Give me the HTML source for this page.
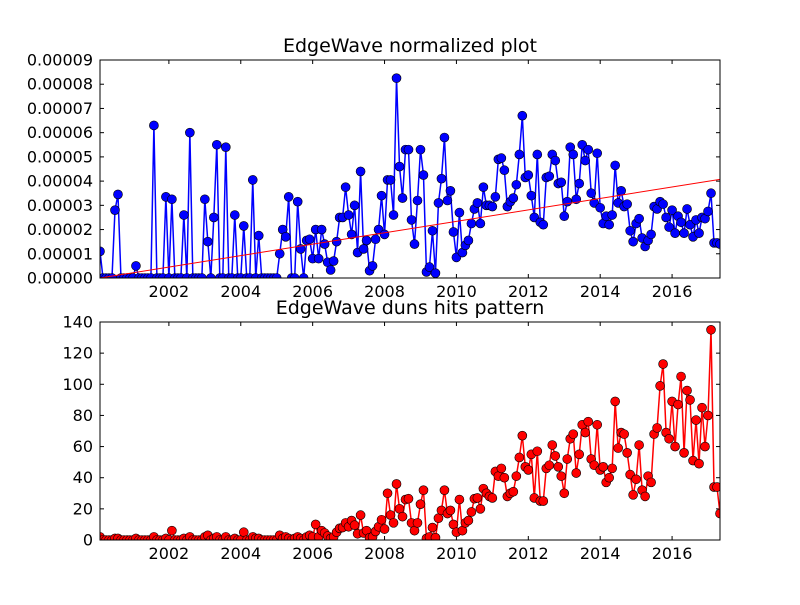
<!DOCTYPE html>
<html><head><meta charset="utf-8"><style>
body{margin:0;background:#fff}
svg text{font-family:"DejaVu Sans","Liberation Sans",sans-serif}
</style></head><body>
<svg id="chart" width="800" height="600" viewBox="0 0 800 600" xmlns="http://www.w3.org/2000/svg">
<rect width="800" height="600" fill="#fff"/>
<g id="top"></g>
<g id="bot"></g>
</svg>
<script>
const startYear = 2000;
const startMonth = 1;
const xTicks = [2002,2004,2006,2008,2010,2012,2014,2016];
const topTicks = [0,1,2,3,4,5,6,7,8,9];
const botTicks = [0,20,40,60,80,100,120,140];
// normalized values (x 1e-5)
const normValues = [1.1,0,0,0,0,2.8,3.45,0,0,0,0,0,0.5,0,0,0,0,0,6.3,0,0,0,3.35,0,3.25,0,0,0,2.6,0,6.0,0,0,0,0,3.25,1.5,0,2.5,5.5,0,0,5.4,0,0,2.6,0,0,2.15,0,0,4.05,0,1.75,0,0,0,0,0,0,1.0,2.0,1.7,3.35,0,0,3.15,1.2,0,
1.55,1.6,0.8,2.0,0.8,2.0,1.4,0.65,0.33,0.7,
1.5,2.5,2.5,3.75,2.6,1.8,3.0,1.05,4.4,1.2,
1.55,0.3,0.5,1.6,2.0,3.4,1.8,4.05,4.05,2.6,
8.25,4.6,3.3,5.3,5.3,2.4,1.4,3.2,5.3,4.25,
0.25,0.45,1.95,0.2,3.1,4.1,5.8,3.2,3.6,1.9,
0.85,2.7,1.05,1.35,1.55,2.25,2.85,3.1,2.25,3.75,
3.0,3.0,2.95,3.35,4.9,4.95,4.45,2.95,3.15,3.3,
3.85,
5.1,6.7,4.15,4.25,3.4,2.5,5.1,2.3,2.2,4.15,
4.2,5.1,4.85,3.9,3.95,2.55,3.15,5.4,5.1,3.25,
3.9,5.5,4.85,5.3,3.5,3.1,5.15,2.9,2.25,2.55,
2.2,2.6,4.65,3.1,3.6,2.95,3.05,1.95,1.5,2.25,
2.45,1.65,1.3,1.55,1.8,2.95,2.85,3.15,3.05,2.5,
2.1,2.8,1.85,2.55,2.3,1.85,2.85,2.2,1.7,2.4,
1.85,2.5,2.45,2.75,3.5,1.45,1.45,1.4];
const trendValues = [0.0, 4.07];
const hitValues = [2,0,0,0,0,1,1,0,0,0,0,0,1,0,0,0,0,0,2,0,0,0,1,0,6,0,0,0,1,0,2,0,0,0,0,2,3,0,1,2,0,0,2,0,0,1,0,0,5,0,0,2,1,1,0,0,0,0,0,0,3,1,2,1,0,1,2,1,0,
2,3,2,10,2,6,4.5,2.5,1,2,
5,7.5,8,11,8.5,12.5,9.5,4,16,4.5,
6,1.5,2,5.5,8.5,13,7,30,16,11,
36,20,15,26,26.5,11,6,11,23,32,
1,2,8,1.5,14,19,32,17,19,10,
5,26,6,11,12.5,18,26.5,27,20,33,
30,28,27,44,41,46,40,28,30,31,
41,
53,67,47,45,55,27,57,25,25,46,
48,61,54,47,41,30,52,65,68,43,
55,74,69,76,52,48,74,45,47,37,
40,46,89,59,69,68,56,42,29,39,
61,32,28,41,37,68,72,99,113,69,
65,89,60,87,105,56,96,90,51,77,
49,85,60,80,135,34,34,17];

const NS="http://www.w3.org/2000/svg";
function mk(tag,attrs,parent){const e=document.createElementNS(NS,tag);for(const k in attrs)e.setAttribute(k,attrs[k]);parent.appendChild(e);return e;}
const L=100,R=720;
function dateOf(i){return startYear+(startMonth+i)/12;}

function drawPanel(g,title,vals,yMax,ticks,fmt,color,T,B,trend){
  const n=vals.length;
  const d0=dateOf(0),d1=dateOf(n-1);
  const xs=d=>L+(d-d0)/(d1-d0)*(R-L);
  const ys=v=>B-v/yMax*(B-T);
  const t=mk('text',{x:410,y:T-8,'font-size':19,'text-anchor':'middle',fill:'#000'},g);
  t.textContent=title;
  
  
  // ticks
  ticks.forEach(v=>{
    const y=ys(v);
    const a=mk('line',{x1:L,x2:L+4,y1:y,y2:y,stroke:'#000'},g);
    
    
    mk('line',{x1:R-4,x2:R,y1:y,y2:y,stroke:'#000'},g);
    const tx=mk('text',{x:L-7,y:y+5.5,'font-size':16,'text-anchor':'end'},g);
    tx.textContent=fmt(v);
    
    
  });
  xTicks.forEach(yr=>{
    const x=xs(yr);
    const a=mk('line',{x1:x,x2:x,y1:B,y2:B-4,stroke:'#000'},g);
    
    
    mk('line',{x1:x,x2:x,y1:T,y2:T+4,stroke:'#000'},g);
    const tx=mk('text',{x:x,y:B+19,'font-size':16,'text-anchor':'middle'},g);
    tx.textContent=yr;
    
    
  });
  const clip=mk('clipPath',{id:'c'+T},g);
  mk('rect',{x:L,y:T,width:R-L,height:B-T},clip);
  const pts=vals.map((v,i)=>xs(dateOf(i)).toFixed(2)+','+ys(v).toFixed(2)).join(' ');
  const pl=mk('polyline',{points:pts,fill:'none',stroke:color,'stroke-width':1.5,'clip-path':'url(#c'+T+')'},g);
  
  
  vals.forEach((v,i)=>{
    const c=mk('circle',{cx:xs(dateOf(i)),cy:ys(v),r:4.5,fill:color,stroke:'#000','stroke-width':0.6,'clip-path':'url(#c'+T+')'},g);
    
    
  });
  if(trend){
    const tl=mk('line',{x1:xs(d0),y1:ys(trend[0]),x2:xs(d1),y2:ys(trend[1]),stroke:'#f00','stroke-width':1,'clip-path':'url(#c'+T+')'},g);
    
    
  }
  const fr=mk('rect',{x:L,y:T,width:R-L,height:B-T,fill:'none',stroke:'#000','stroke-width':1},g);
  
  
}
drawPanel(document.getElementById('top'),'EdgeWave normalized plot',normValues,9,topTicks,v=>(v*1e-5).toFixed(5),'#0000ff',60,278,trendValues);
drawPanel(document.getElementById('bot'),'EdgeWave duns hits pattern',hitValues,140,botTicks,v=>String(v),'#ff0000',322,540,null);
</script>
</body></html>
